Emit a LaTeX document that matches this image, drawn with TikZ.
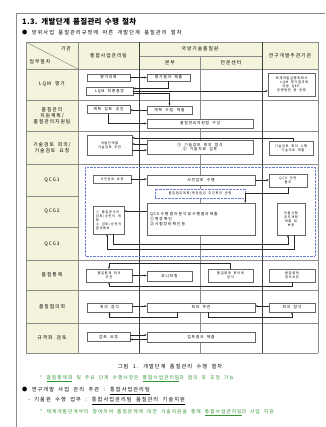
\documentclass[tikz,border=0pt]{standalone}
\usepackage{fontspec}
\setmainfont{Noto Sans CJK KR}[LetterSpace=20,WordSpace=2]
\newfontfamily\ttlfont{Noto Sans CJK KR}[LetterSpace=4,WordSpace=1.6]
\usetikzlibrary{arrows.meta,calc}
\definecolor{ylw}{RGB}{244,244,220}
\definecolor{grn}{RGB}{50,150,50}
\definecolor{qblue}{RGB}{110,125,210}
\begin{document}
\begin{tikzpicture}[x=1pt,y=-1pt,
  box/.style={draw=black!60, line width=0.45pt, fill=white, inner sep=0.3pt, align=center, font=\fontsize{3.8}{4.6}\selectfont},
  sbox/.style={box, font=\fontsize{3.2}{3.9}\selectfont},
  arr/.style={-{Stealth[length=2.4pt,width=2pt]}, line width=0.4pt, draw=black!85},
  gridl/.style={black!45, line width=0.5pt},
  dgrid/.style={black!75, line width=0.6pt},
  lab/.style={font=\fontsize{4.8}{6}\selectfont, align=center, inner sep=0pt},
  qdot/.style={draw=qblue, line width=0.5pt, dash pattern=on 0.7pt off 0.7pt},
  txt/.style={anchor=west, inner sep=0pt, font=\fontsize{5.2}{6}\selectfont}
]
\useasboundingbox (0,0) rectangle (325,427);
\fill[white] (0,0) rectangle (325,427);
% page frame
\draw[black!45, line width=0.6pt] (16,427) -- (16,13) -- (325,13);
% title
\node[anchor=west, inner sep=0pt] (title) at (22,22) {\ttlfont\bfseries\fontsize{7.5}{8}\selectfont 1.3. 개발단계 품질관리 수행 절차};
\node[txt] (sub) at (22,33) {● 방위사업 품질관리규정에 따른 개발단계 품질관리 절차};
% table fills
\fill[ylw] (26,42) rectangle (318,69);
\fill[ylw] (26,69) rectangle (78,353);
% grid
\foreach \yy in {42,69,100,131,164,260,290,323,353} \draw[gridl] (26,\yy) -- (318,\yy);
\foreach \yy in {196,227} \draw[gridl] (26,\yy) -- (78,\yy);
\draw[gridl] (139,56) -- (262,56);
\draw[gridl] (26,42) -- (26,353);
\draw[gridl] (318,42) -- (318,353);
\draw[gridl] (78,42) -- (78,353);
\draw[dgrid] (139,42) -- (139,353);
\draw[gridl] (200,56) -- (200,353);
\draw[dgrid] (262,42) -- (262,353);
\draw[gridl] (26,42) -- (78,69);
% header
\node[lab] (hk) at (66,49) {기관};
\node[lab] (hu) at (40,62) {업무절차};
\node[lab] (ht) at (108.5,56) {통합사업관리팀};
\node[lab] (hq) at (200,49) {국방기술품질원};
\node[lab] (hb) at (170,62.5) {본부};
\node[lab] (hc) at (231,62.5) {전문센터};
\node[lab] (hr) at (290,56) {연구개발주관기관};
% row labels
\node[lab] (r1) at (52,84) {LQM 평가};
\node[lab] (r2) at (52,115.5) {품질관리\\지원계획/\\품질관리지원팀};
\node[lab] (r3) at (52,147.5) {기술검토 회의/\\기술검토 요청};
\node[lab] (r4) at (52,180) {QCG1};
\node[lab] (r5) at (52,211.5) {QCG2};
\node[lab] (r6) at (52,244) {QCG3};
\node[lab] (r7) at (52,275) {품질통제};
\node[lab] (r8) at (52,306.5) {품질협의회};
\node[lab] (r9) at (52,338) {규격화 검토};
% QCG dotted frame
\draw[qdot] (85,167) rectangle (315,256);
% LQM row
\node[box, minimum width=43pt, minimum height=7pt] (b1) at (108.5,77.5) {평가의뢰};
\node[box, minimum width=43pt, minimum height=7pt] (b2) at (168.5,77.5) {평가결과 제출};
\node[box, minimum width=47pt, minimum height=8pt] (b3) at (109.5,91) {LQM 최종결정};
\node[sbox, minimum width=47pt, minimum height=23pt] (b4) at (291.5,84.5) {체계개발실행계획서\\~ LQM 평가결과에\\따른 QEP,\\운영방안 등 반영};
% row 2
\node[box, minimum width=43pt, minimum height=8pt] (c1) at (108.5,109.5) {계획 검토·승인};
\node[box, minimum width=45pt, minimum height=8pt] (c2) at (169.5,110) {계획 수립·제출};
\node[box, minimum width=106pt, minimum height=9pt] (c3) at (200,123.5) {품질관리지원팀 구성};
% row 3
\node[sbox, minimum width=45pt, minimum height=20pt] (d1) at (109.5,145) {개발단계별\\기술검토 주관};
\node[box, minimum width=106pt, minimum height=14pt] (d2) at (200,147) {① 기술검토 회의 참석\\② 기술자료 검토};
\node[sbox, minimum width=44pt, minimum height=14pt] (d3) at (291,148) {기술검토 회의 수행\\- 기술자료 제출};
% QCG1
\node[sbox, minimum width=38pt, minimum height=8pt] (e1) at (112,179) {사전검토 요청};
\node[box, minimum width=108pt, minimum height=10pt] (e2) at (201,180) {사전검토 수행};
\node[sbox, minimum width=38pt, minimum height=13pt] (e3) at (288,180.5) {QCG 관련\\협조};
\node[sbox, qdot, fill=white, minimum width=90pt, minimum height=9pt] (e4) at (200,193.5) {품질업무계획/현장점검 주간회의 운영};
% QCG2
\node[sbox, align=left, minimum width=31pt, minimum height=28pt] (f1) at (108.5,220) {① 품질문서의\\검토/승인의 계\\획\\② 검토/승인의\\결과통보};
\node[box, align=left, minimum width=108pt, minimum height=32pt, text width=102pt] (f2) at (201,219) {QCG 수행 결과 분석 및 수행결과 제출\\① 현장 확인\\② 시험장비 확인 등};
\node[sbox, minimum width=28pt, minimum height=32pt] (f3) at (291,219) {미흡사항\\조치계획\\제출 및\\보완};
% quality control row
\node[sbox, minimum width=46pt, minimum height=13pt] (g1) at (109,275.5) {품질통제 회의\\주관};
\node[box, minimum width=45pt, minimum height=10pt] (g2) at (169.5,276) {모니터링};
\node[sbox, minimum width=45pt, minimum height=13pt] (g3) at (230.5,275.5) {품질통제 회의체\\참석};
\node[sbox, minimum width=46pt, minimum height=13pt] (g4) at (292,275.5) {품질통제\\참석요청};
% council row
\node[box, minimum width=45pt, minimum height=9pt] (h1) at (109.5,307.5) {회의 참석};
\node[box, minimum width=108pt, minimum height=9pt] (h2) at (201,307.5) {회의 주관};
\node[box, minimum width=46pt, minimum height=9pt] (h3) at (292,307.5) {회의 참석};
% standardization row
\node[box, minimum width=43pt, minimum height=9pt] (i1) at (108.5,337) {검토 요청};
\node[box, minimum width=108pt, minimum height=10pt] (i2) at (201,337) {검토결과 제출};
% arrows LQM
\draw[arr] (b1.east) -- (b2.west);
\draw[arr] (b2.south) |- ($(b3.east)+(0,-2.5)$);
\draw[arr] (b3.east) -- (b3.east -| b4.west);
\draw[arr] ($(b3.east)+(0,2.5)$) -| (c2.north);
% arrows row 2
\draw[arr] (c2.west) -- (c2.west -| c1.east);
\draw[arr] (c1.south) |- (c3.west);
% arrows row 3
\draw[arr] ($(d3.north)+(2,0)$) |- ($(d1.north east)+(0,3)$);
\draw[arr] ($(d2.west)+(0,-3)$) -- ($(d1.east)+(0,-1)$);
\draw[arr] ($(d1.east)+(0,5)$) -- ($(d2.west)+(0,3)$);
% QCG arrows
\draw[arr] (e1.east) -- (e1.east -| e2.west);
\draw[arr] (e2.east) -- (e2.east -| e3.west);
\draw[arr] (e3.south) |- (e4.east) -- (e4.east |- f2.north);
\draw[arr] ($(f2.west)+(0,-8)$) -- ($(f1.east)+(0,-9)$);
\draw[arr] ($(f1.south)+(4.5,0)$) -- ++(0,10) -| ($(f3.south)+(-3,0)$);
\draw[arr] ($(f3.south)+(3,0)$) -- ++(0,14) -| ($(f1.south)+(-1.5,0)$);
% quality control arrows
\draw[arr] (g1.east) -- (g1.east -| g2.west);
\draw[arr] (g3.north) -- ++(0,-5.5) -| (g1.north);
\draw[arr] (g4.south) -- ++(0,4) -| (g1.south);
% council arrows
\draw[arr] ($(h1.east)+(0,-1.5)$) -- ($(h2.west)+(0,-1.5)$);
\draw[arr] ($(h3.west)+(0,-1.5)$) -- ($(h2.east)+(0,-1.5)$);
\draw[arr] ($(h2.south)+(-24,0)$) -- ++(0,5) -| (h1.south);
\draw[arr] ($(h2.south)+(7,0)$) -- ++(0,5) -| (h3.south);
% standardization arrows
\draw[arr] ($(i1.east)+(0,-2)$) -- ($(i2.west)+(0,-2)$);
\draw[arr] ($(i2.west)+(0,2.5)$) -- ($(i1.east)+(0,2.5)$);
% caption and notes
\node[inner sep=0pt, font=\fontsize{5.2}{6}\selectfont] (cap) at (170,367) {그림 1. 개발단계 품질관리 수행 절차};
\node[txt, text=grn, font=\fontsize{4.8}{6}\selectfont] (n1) at (40,379) {* \underline{품질통제회} 및 주요 단계 수행사항은 \underline{통합사업관리팀}과 협의 후 조정 가능};
\node[txt] (n2) at (22,391) {● 연구개발 사업 관리 주관 : \underline{통합사업관리팀}};
\node[txt] (n3) at (28,401) {- 기품원 수행 업무 : \underline{통합사업관리팀 품질관리 기술지원}};
\node[txt, text=grn, font=\fontsize{4.8}{6}\selectfont] (n4) at (40,413) {* 체계개발단계부터 참여하여 품질문제에 대한 기술지원을 통해 \underline{통합사업관리팀}의 사업 지원};
\end{tikzpicture}
\end{document}
